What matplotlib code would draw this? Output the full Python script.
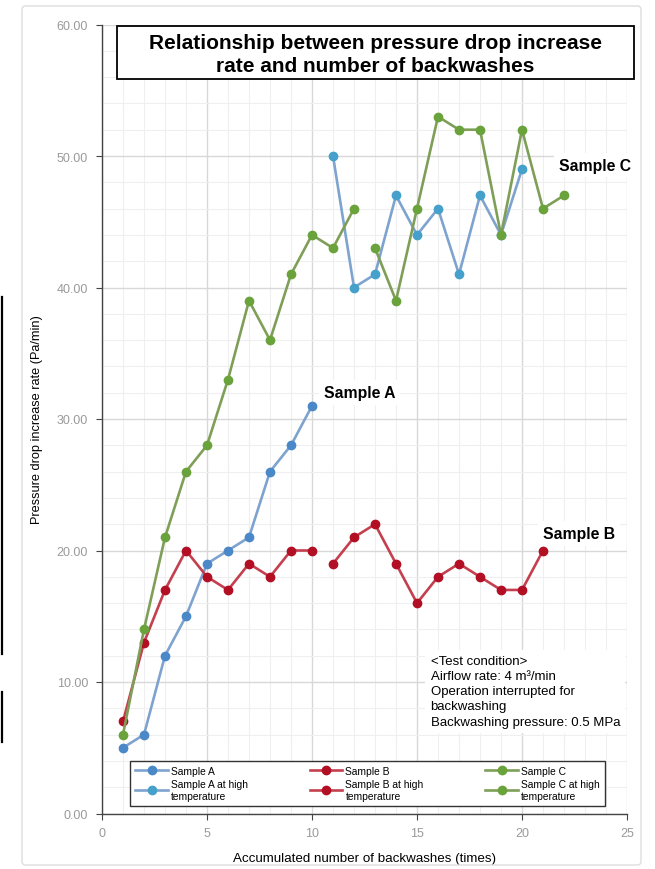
import matplotlib
matplotlib.use("Agg")
import matplotlib.pyplot as plt
from matplotlib.patches import FancyBboxPatch, Rectangle
from matplotlib.lines import Line2D
from matplotlib.ticker import MultipleLocator, FormatStrFormatter

plt.rcParams['font.family'] = ['Liberation Sans', 'DejaVu Sans']

# ---- data ----
x_a = [1, 2, 3, 4, 5, 6, 7, 8, 9, 10]
sample_a = [5, 6, 12, 15, 19, 20, 21, 26, 28, 31]
x_a_hot = [11, 12, 13, 14, 15, 16, 17, 18, 19, 20]
sample_a_hot = [50, 40, 41, 47, 44, 46, 41, 47, 44, 49]

x_b = [1, 2, 3, 4, 5, 6, 7, 8, 9, 10]
sample_b = [7, 13, 17, 20, 18, 17, 19, 18, 20, 20]
x_b_hot = [11, 12, 13, 14, 15, 16, 17, 18, 19, 20, 21]
sample_b_hot = [19, 21, 22, 19, 16, 18, 19, 18, 17, 17, 20]

x_c = [1, 2, 3, 4, 5, 6, 7, 8, 9, 10, 11, 12]
sample_c = [6, 14, 21, 26, 28, 33, 39, 36, 41, 44, 43, 46]
x_c_hot = [13, 14, 15, 16, 17, 18, 19, 20, 21, 22]
sample_c_hot = [43, 39, 46, 53, 52, 52, 44, 52, 46, 47]

legend_labels = ["Sample A", "Sample A at high\ntemperature",
                 "Sample B", "Sample B at high\ntemperature",
                 "Sample C", "Sample C at high\ntemperature"]

title = "Relationship between pressure drop increase\nrate and number of backwashes"
condition = ("<Test condition>\nAirflow rate: 4 m\u00b3/min\nOperation interrupted for\n"
             "backwashing\nBackwashing pressure: 0.5 MPa")

# ---- figure ----
fig = plt.figure(figsize=(6.55, 8.7), dpi=100)
W, H = 655, 870

# outer light frame
fig.patches.append(FancyBboxPatch((22 / W, 4 / H), (641 - 22) / W, (863 - 4) / H,
                                  boxstyle="round,pad=0,rounding_size=0.005",
                                  transform=fig.transFigure, fill=False,
                                  edgecolor="#dddddd", linewidth=1.0))
# black artifact lines on the left edge
fig.add_artist(Line2D([1.5 / W, 1.5 / W], [1 - 298 / H, 1 - 655 / H],
                      transform=fig.transFigure, color="black", linewidth=1.6))
fig.add_artist(Line2D([1.5 / W, 1.5 / W], [1 - 693 / H, 1 - 743 / H],
                      transform=fig.transFigure, color="black", linewidth=1.6))

ax = fig.add_axes([102 / W, (H - 814.5) / H, 525 / W, 789 / H])
ax.set_xlim(0, 25)
ax.set_ylim(0, 60)
ax.xaxis.set_major_locator(MultipleLocator(5))
ax.xaxis.set_minor_locator(MultipleLocator(1))
ax.yaxis.set_major_locator(MultipleLocator(10))
ax.yaxis.set_minor_locator(MultipleLocator(2))
ax.yaxis.set_major_formatter(FormatStrFormatter("%.2f"))
ax.grid(which="major", color="#d8d8d8", linewidth=1.0)
ax.grid(which="minor", color="#efefef", linewidth=0.8)
ax.set_axisbelow(True)
for s in ["top", "right"]:
    ax.spines[s].set_visible(False)
for s in ["left", "bottom"]:
    ax.spines[s].set_color("#444444")
    ax.spines[s].set_linewidth(1.0)
ax.tick_params(which="major", length=4, color="#444444", labelsize=9,
               labelcolor="#9a9a9a")
ax.tick_params(which="minor", length=0)
ax.tick_params(axis="x", pad=6)
ax.tick_params(axis="y", pad=6)

lw, ms = 1.9, 6
blue_l, blue_m = "#7ea3cf", "#4a88c7"
blue2_m = "#45a0cc"
red_l, red_m = "#c4404f", "#b20f24"
green_l, green_m = "#7f9f58", "#6aa33c"

h = []
h += ax.plot(x_a, sample_a, color=blue_l, lw=lw, marker="o", ms=ms,
             mfc=blue_m, mec=blue_m, label=legend_labels[0])
h += ax.plot(x_a_hot, sample_a_hot, color=blue_l, lw=lw, marker="o", ms=ms,
             mfc=blue2_m, mec=blue2_m, label=legend_labels[1])
h += ax.plot(x_b, sample_b, color=red_l, lw=lw, marker="o", ms=ms,
             mfc=red_m, mec=red_m, label=legend_labels[2])
h += ax.plot(x_b_hot, sample_b_hot, color=red_l, lw=lw, marker="o", ms=ms,
             mfc=red_m, mec=red_m, label=legend_labels[3])
h += ax.plot(x_c, sample_c, color=green_l, lw=lw, marker="o", ms=ms,
             mfc=green_m, mec=green_m, label=legend_labels[4])
h += ax.plot(x_c_hot, sample_c_hot, color=green_l, lw=lw, marker="o", ms=ms,
             mfc=green_m, mec=green_m, label=legend_labels[5])

leg = ax.legend(handles=h, ncol=3, loc="lower left",
                bbox_to_anchor=((130 - 102) / 525, (814.5 - 807) / 789,
                                (605 - 130) / 525, (807 - 753) / 789),
                mode="expand", fontsize=7.4, frameon=True, fancybox=False,
                handlelength=3.2, handletextpad=0.3, columnspacing=1.0,
                labelspacing=0.35, borderpad=0.5, borderaxespad=0)
leg.get_frame().set_edgecolor("#333333")
leg.get_frame().set_linewidth(1.0)
leg.get_frame().set_alpha(1)

# title box
fig.patches.append(Rectangle((117 / W, 1 - 80 / H), (634 - 117) / W, 53 / H,
                             transform=fig.transFigure, facecolor="white",
                             edgecolor="black", linewidth=1.3, zorder=5))
fig.text((117 + 634) / 2 / W, 1 - 55 / H, title, ha="center", va="center",
         fontsize=15, fontweight="bold", linespacing=1.28, zorder=6)

# series labels
bb = dict(boxstyle="square,pad=0.3", fc="white", ec="none")
ax.text(21.75, 49.3, "Sample C", fontsize=11.3, fontweight="bold", ha="left",
        va="center", bbox=bb)
ax.text(10.55, 32.0, "Sample A", fontsize=11.3, fontweight="bold", ha="left",
        va="center", bbox=bb)
ax.text(21.0, 21.3, "Sample B", fontsize=11.3, fontweight="bold", ha="left",
        va="center", bbox=bb)

ax.text(15.65, 9.3, condition, fontsize=9.5, ha="left", va="center",
        linespacing=1.35,
        bbox=dict(boxstyle="square,pad=0.4", fc="white", ec="none"))

ax.set_ylabel("Pressure drop increase rate (Pa/min)", fontsize=9.2)
ax.yaxis.set_label_coords((43 - 102) / 525, 0.5)
ax.set_xlabel("Accumulated number of backwashes (times)", fontsize=9.6, labelpad=9)

fig.savefig("out.png", dpi=100)
